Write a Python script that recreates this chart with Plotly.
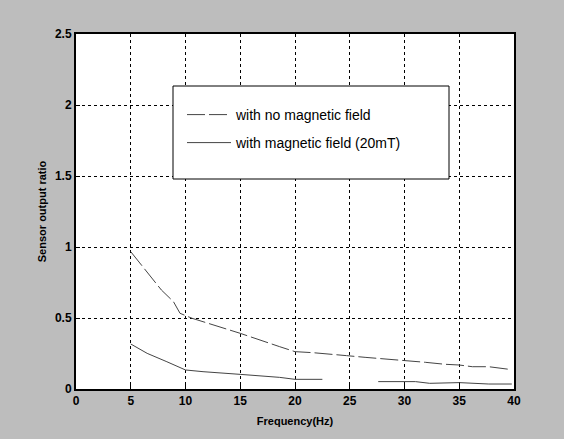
import plotly.graph_objects as go

# Data
freq_nofield = [5.0, 6.3, 7.8, 8.9, 9.5, 10.6, 11.6, 13.5, 15.0, 18.6, 20.0, 21.6, 23.1, 24.7,
                26.4, 28.9, 30.1, 31.9, 33.7, 35.0, 36.2, 37.7, 39.5]
ratio_nofield = [0.967, 0.838, 0.697, 0.615, 0.533, 0.498, 0.474, 0.427, 0.392, 0.298, 0.263, 0.256,
                 0.244, 0.235, 0.223, 0.209, 0.200, 0.188, 0.174, 0.169, 0.157, 0.157, 0.139]

freq_field = [5.0, 6.5, 8.3, 10.0, 11.6, 13.2, 15.0, 18.6, 20.0, 22.5, None,
              27.6, 31.0, 32.3, 35.0, 37.7, 39.8]
ratio_field = [0.317, 0.251, 0.192, 0.134, 0.122, 0.115, 0.103, 0.082, 0.068, 0.068, None,
               0.052, 0.052, 0.040, 0.045, 0.035, 0.035]

x_ticks = [0, 5, 10, 15, 20, 25, 30, 35, 40]
y_ticks = [0, 0.5, 1, 1.5, 2, 2.5]
y_ticklabels = ["0", "0.5", "1", "1.5", "2", "2.5"]

series_names = ["with no magnetic field", "with magnetic field (20mT)"]

fig = go.Figure()
fig.add_trace(go.Scatter(x=freq_nofield, y=ratio_nofield, mode="lines",
                         name=series_names[0], legend="legend",
                         line=dict(color="#444444", width=1, dash="18px,4px")))
fig.add_trace(go.Scatter(x=freq_field, y=ratio_field, mode="lines",
                         name=series_names[1], legend="legend2", connectgaps=False,
                         line=dict(color="#444444", width=1)))

axis_font = dict(family="Liberation Sans, Arial", size=12, color="black", weight="bold")
title_font = dict(family="Liberation Sans, Arial", size=11, color="black", weight="bold")
legend_font = dict(family="Liberation Sans, Arial", size=14, color="black")

common_axis = dict(showgrid=True, gridcolor="black", gridwidth=1, griddash="3px,3px",
                   showline=True, linecolor="black", linewidth=2, mirror=True,
                   ticks="inside", ticklen=4, tickcolor="black",
                   tickfont=axis_font, zeroline=False, layer="above traces")

fig.update_layout(
    width=564, height=439,
    margin=dict(l=76, r=50, t=34, b=50),
    paper_bgcolor="#bdbdbd",
    plot_bgcolor="white",
    showlegend=True,
    xaxis=dict(range=[0, 40], tickvals=x_ticks, ticktext=[str(v) for v in x_ticks],
               title=dict(text="Frequency(Hz)", font=title_font, standoff=10),
               **common_axis),
    yaxis=dict(range=[0, 2.5], tickvals=y_ticks, ticktext=y_ticklabels,
               title=dict(text="Sensor output ratio", font=title_font, standoff=6),
               **common_axis),
    legend=dict(x=(182 - 76) / 438, y=(389 - 99) / 355, xanchor="left", yanchor="top",
                bgcolor="rgba(0,0,0,0)", borderwidth=0, itemwidth=44, font=legend_font),
    legend2=dict(x=(182 - 76) / 438, y=(389 - 127) / 355, xanchor="left", yanchor="top",
                 bgcolor="rgba(0,0,0,0)", borderwidth=0, itemwidth=44, font=legend_font),
    shapes=[dict(type="rect", xref="paper", yref="paper",
                 x0=(173 - 76) / 438, x1=(449 - 76) / 438,
                 y0=(389 - 179) / 355, y1=(389 - 86) / 355,
                 fillcolor="white", line=dict(color="black", width=1), layer="above")],
)

fig.write_html("out.html", config={"displayModeBar": False},
               post_script="document.body.style.margin='0px';")
